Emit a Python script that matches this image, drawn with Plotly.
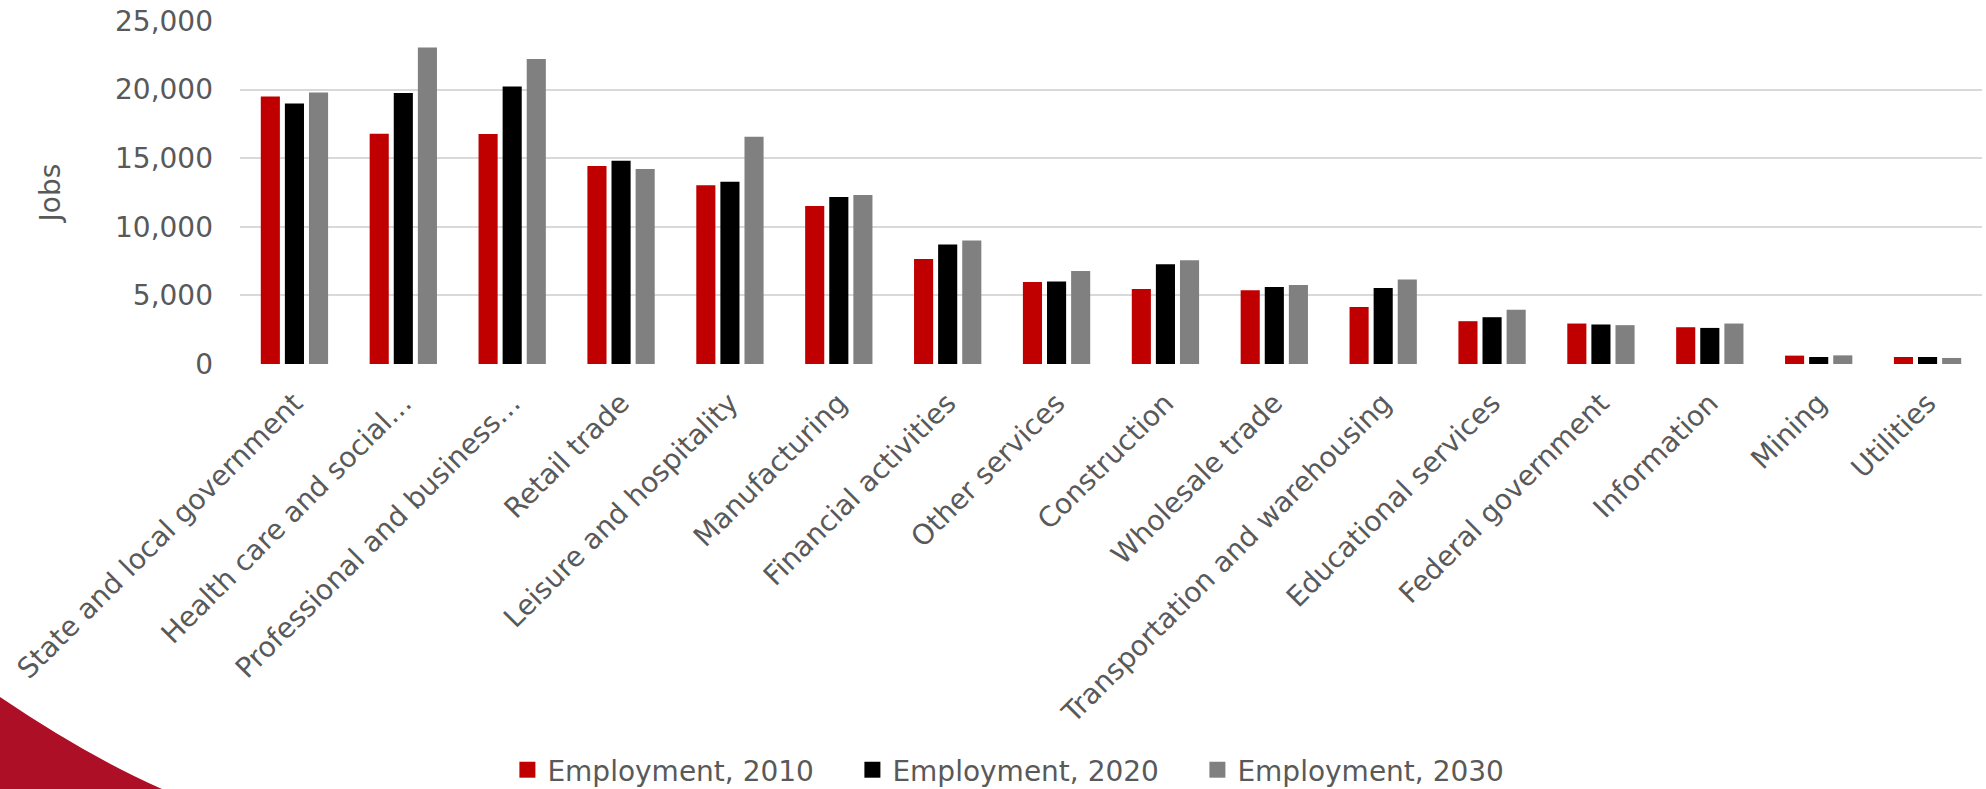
import plotly.graph_objects as go

categories = [
    "State and local government", "Health care and social…", "Professional and business…",
    "Retail trade", "Leisure and hospitality", "Manufacturing", "Financial activities",
    "Other services", "Construction", "Wholesale trade", "Transportation and warehousing",
    "Educational services", "Federal government", "Information", "Mining", "Utilities",
]
emp_2010 = [19490, 16790, 16770, 14430, 13020, 11520, 7660, 5980, 5460, 5370, 4150, 3120, 2950, 2680, 610, 510]
emp_2020 = [18980, 19760, 20220, 14820, 13290, 12170, 8710, 6020, 7270, 5610, 5540, 3410, 2880, 2630, 510, 510]
emp_2030 = [19780, 23060, 22230, 14220, 16570, 12320, 9000, 6780, 7560, 5760, 6150, 3950, 2830, 2950, 630, 440]

series_names = ["Employment, 2010", "Employment, 2020", "Employment, 2030"]
series_colors = ["#C00000", "#000000", "#808080"]

W, H = 1986, 789
L, R, T, B = 240, 4, 21, 425
TEXT = "#595959"
FONT = "DejaVu Sans"

fig = go.Figure()
for name, vals, col in zip(series_names, [emp_2010, emp_2020, emp_2030], series_colors):
    fig.add_trace(go.Bar(x=categories, y=vals, name=name, legendgroup=name, showlegend=False,
                         marker=dict(color=col, line=dict(width=0))))
# legend entries with larger square swatches (no data drawn)
for name, col in zip(series_names, series_colors):
    fig.add_trace(go.Scatter(x=[None], y=[None], mode="markers", name=name, legendgroup=name,
                             marker=dict(symbol="square", size=19, color=col, line=dict(width=0))))

# decorative red swoosh in the bottom-left corner (pixel -> paper)
pw, ph = W - L - R, H - T - B
def px(x):
    return (x - L) / pw
def py(y):
    return (H - B - y) / ph
path = (f"M {px(0):.4f},{py(697):.4f} Q {px(87):.4f},{py(756):.4f} {px(162):.4f},{py(789):.4f} "
        f"L {px(0):.4f},{py(789):.4f} Z")
fig.add_shape(type="path", path=path, xref="paper", yref="paper",
              fillcolor="#AC0F26", line=dict(width=0), layer="below")

fig.update_layout(
    width=W, height=H,
    margin=dict(l=L, r=R, t=T, b=B, autoexpand=False),
    paper_bgcolor="white", plot_bgcolor="white",
    barmode="group", bargap=0.336, bargroupgap=0.207,
    font=dict(family=FONT, color=TEXT, size=28),
    showlegend=True,
    legend=dict(orientation="h", x=0.1535, xanchor="left", y=py(770), yanchor="middle",
                font=dict(size=28, color=TEXT, family=FONT),
                entrywidth=300, entrywidthmode="pixels", itemsizing="trace",
                itemclick=False, bgcolor="rgba(0,0,0,0)"),
    xaxis=dict(tickangle=-45, showgrid=False, showline=False, ticks="",
               ticklabelstandoff=16,
               tickfont=dict(size=28, color=TEXT, family=FONT), automargin=False),
    yaxis=dict(range=[0, 25000], dtick=5000, tickformat=",", showgrid=True,
               gridcolor="#D9D9D9", gridwidth=1.5, zeroline=False, showline=False,
               ticks="", ticklabelstandoff=26,
               tickfont=dict(size=28, color=TEXT, family=FONT),
               title=dict(text="Jobs", font=dict(size=28, color=TEXT, family=FONT), standoff=46),
               automargin=False),
)

fig.write_html("out.html")
